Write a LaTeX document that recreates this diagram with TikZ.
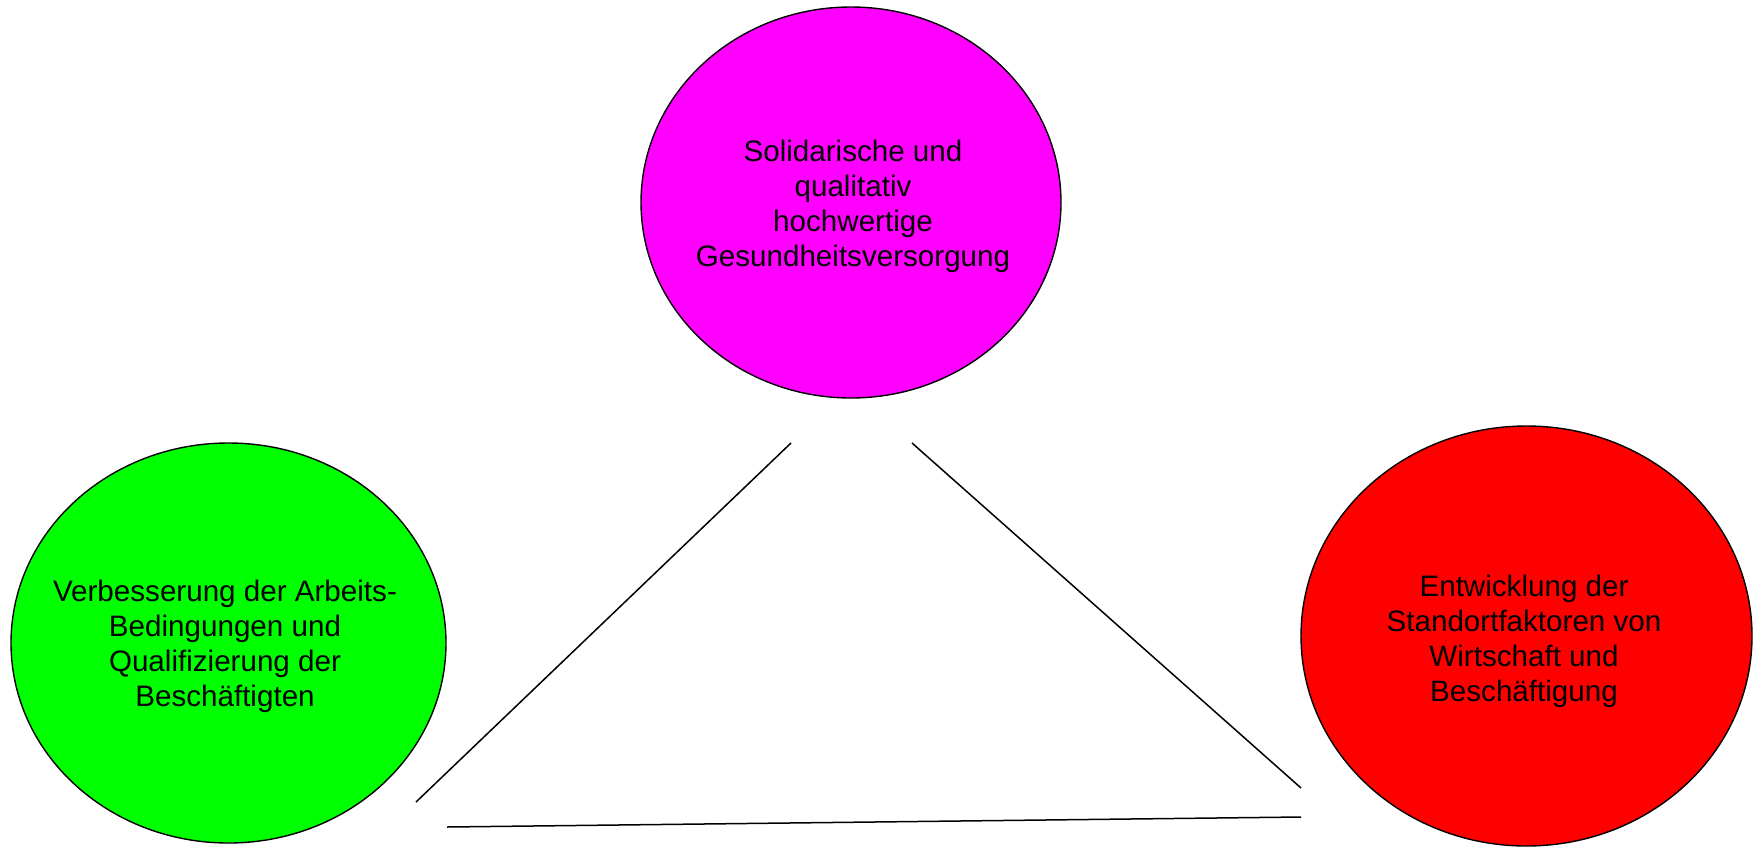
\documentclass[tikz,border=0pt]{standalone}
\usepackage{fontspec}
\setmainfont{Liberation Sans}
\usetikzlibrary{shapes.geometric}
\begin{document}
\begin{tikzpicture}[x=0.5pt,y=-0.5pt,
  blob/.style={ellipse,draw=black,line width=0.7pt,inner sep=0pt},
  lbl/.style={align=center,font=\fontsize{14.8}{17.5}\selectfont,inner sep=0pt},
  conn/.style={draw=black,line width=0.75pt}]
\useasboundingbox (0,0) rectangle (1754,846);
\node[blob,fill={rgb,255:red,255;green,0;blue,255},minimum width=210pt,minimum height=195.5pt] (top) at (851,202.5) {};
\node[blob,fill={rgb,255:red,0;green,255;blue,0},minimum width=217.5pt,minimum height=200pt] (left) at (228.5,643) {};
\node[blob,fill={rgb,255:red,255;green,0;blue,0},minimum width=225.5pt,minimum height=210pt] (right) at (1526.5,636) {};
\node[lbl] (ttop) at (853,206) {Solidarische und\\qualitativ\\hochwertige\\Gesundheitsversorgung};
\node[lbl] (tleft) at (225,646) {Verbesserung der Arbeits-\\Bedingungen und\\Qualifizierung der\\Besch\"aftigten};
\node[lbl] (tright) at (1524,641) {Entwicklung der\\Standortfaktoren von\\Wirtschaft und\\Besch\"aftigung};
\coordinate (a1) at (791,443);
\coordinate (a2) at (416,802);
\coordinate (b1) at (912,443);
\coordinate (b2) at (1301,788);
\coordinate (c1) at (447,827);
\coordinate (c2) at (1301,817);
\draw[conn] (a1) -- (a2);
\draw[conn] (b1) -- (b2);
\draw[conn] (c1) -- (c2);
\end{tikzpicture}
\end{document}
